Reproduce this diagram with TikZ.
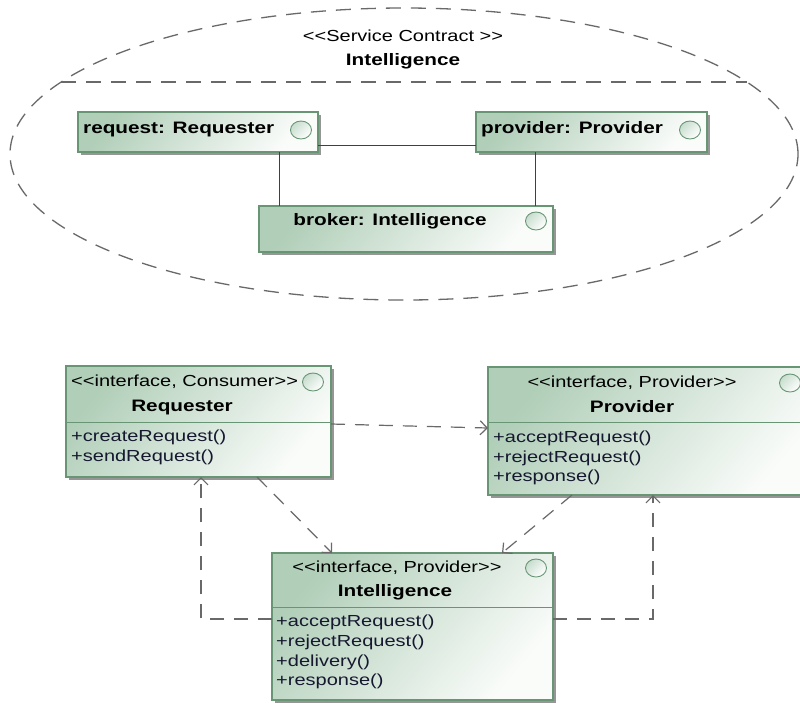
\documentclass[tikz,border=0pt]{standalone}
\usepackage{fontspec}
\setmainfont[FakeStretch=1.25]{Liberation Sans}
\usetikzlibrary{arrows.meta,shapes.geometric,shadows}

\definecolor{umlfill}{RGB}{176,206,184}
\definecolor{umlfilltwo}{RGB}{250,252,250}
\definecolor{umlline}{RGB}{104,150,116}
\definecolor{shadowgray}{RGB}{150,150,150}
\definecolor{dashgray}{RGB}{105,105,105}
\definecolor{opcolor}{RGB}{22,24,48}

% guillemet-like stereotype brackets, kept as two separate characters
\newcommand\stereoL{<\kern0pt<}
\newcommand\stereoR{>\kern0pt>}

\tikzset{
  umlbox/.style={draw=umlline, line width=1.1pt,
    top color=umlfill, bottom color=umlfilltwo, shading angle=50,
    drop shadow={shadow xshift=3pt, shadow yshift=-3pt, fill=shadowgray, opacity=1},
    anchor=north west, inner sep=0pt, outer sep=0pt},
  portmark/.style={ellipse, draw=umlline, line width=0.9pt,
    top color=umlfill!70, bottom color=white, shading angle=45,
    minimum width=21pt, minimum height=18pt, inner sep=0pt},
  partname/.style={font=\fontsize{16.6}{20}\selectfont\bfseries, text=black,
    inner sep=0pt, text height=13pt, text depth=4pt},
  stereo/.style={font=\fontsize{16}{20}\selectfont, text=black,
    inner sep=0pt, text height=12pt, text depth=3.5pt},
  oper/.style={font=\fontsize{16}{20}\selectfont, text=opcolor,
    inner sep=0pt, anchor=west, text height=12pt, text depth=3.5pt},
  compsep/.style={draw=umlline, line width=1pt},
  link/.style={draw=black!75, line width=1pt},
  depend/.style={draw=dashgray, line width=1.2pt, dash pattern=on 14pt off 10pt,
    -{Straight Barb[length=7pt,width=14pt]}},
  contractline/.style={draw=dashgray, line width=1.3pt, dash pattern=on 15pt off 10pt},
}

\begin{document}
\begin{tikzpicture}[x=1pt, y=-1pt]
\useasboundingbox[fill=white] (0,0) rectangle (800,702);

% ---------- service contract collaboration ----------
\node[ellipse, contractline, minimum width=788pt, minimum height=292pt, inner sep=0pt]
  (contract) at (404,154) {};
\coordinate (sepL) at (61,82);
\coordinate (sepR) at (747,82);
\draw[contractline] (sepL) -- (sepR);
\node[stereo] (contractStereo) at (403,37) {\stereoL Service Contract \stereoR};
\node[partname] (contractName) at (403,61) {Intelligence};

% parts
\node[umlbox, minimum width=240pt, minimum height=40pt] (req) at (78,112) {};
\node[partname, anchor=west] (reqT) at (83,129) {request: Requester};
\node[portmark] (reqP) at (301,130) {};

\node[umlbox, minimum width=231pt, minimum height=40pt] (prov) at (476,112) {};
\node[partname, anchor=west] (provT) at (481,129) {provider: Provider};
\node[portmark] (provP) at (690,130) {};

\node[umlbox, minimum width=294pt, minimum height=46pt] (broker) at (259,206) {};
\node[partname] (brokerT) at (390,221) {broker: Intelligence};
\node[portmark] (brokerP) at (536,221) {};

% connectors between parts
\draw[link] ([yshift=-13pt]req.east) -- ([yshift=-13pt]prov.west);
\draw[link] ([xshift=-39pt]req.south east) -- ([xshift=-39pt]req.south east |- broker.north);
\draw[link] ([xshift=59pt]prov.south west) -- ([xshift=59pt]prov.south west |- broker.north);

% ---------- interfaces ----------
% Requester
\node[umlbox, minimum width=265pt, minimum height=111pt] (reqC) at (66,366) {};
\draw[compsep] ([yshift=-56pt]reqC.north west) -- ([yshift=-56pt]reqC.north east);
\node[stereo, anchor=west] (reqCS) at (71,382) {\stereoL interface, Consumer\stereoR};
\node[portmark] (reqCP) at (313,382) {};
\node[partname] (reqCN) at (182,407) {Requester};
\node[oper] (reqOp1) at (71,437) {+createRequest()};
\node[oper] (reqOp2) at (71,457) {+sendRequest()};

% Provider
\node[umlbox, minimum width=330pt, minimum height=128pt] (provC) at (488,367) {};
\draw[compsep] ([yshift=-55pt]provC.north west) -- ([yshift=-55pt]provC.north east);
\node[stereo] (provCS) at (632,383) {\stereoL interface, Provider\stereoR};
\node[portmark] (provCP) at (790,383) {};
\node[partname] (provCN) at (632,408) {Provider};
\node[oper] (provOp1) at (493,438) {+acceptRequest()};
\node[oper] (provOp2) at (493,458) {+rejectRequest()};
\node[oper] (provOp3) at (493,477) {+response()};

% Intelligence
\node[umlbox, minimum width=281pt, minimum height=147pt] (intC) at (272,553) {};
\draw[compsep] ([yshift=-54pt]intC.north west) -- ([yshift=-54pt]intC.north east);
\node[stereo] (intCS) at (397,568) {\stereoL interface, Provider\stereoR};
\node[portmark] (intCP) at (536,568) {};
\node[partname] (intCN) at (395,592) {Intelligence};
\node[oper] (intOp1) at (276,622) {+acceptRequest()};
\node[oper] (intOp2) at (276,642) {+rejectRequest()};
\node[oper] (intOp3) at (276,662) {+delivery()};
\node[oper] (intOp4) at (276,681) {+response()};

% dependencies
\draw[depend] ([yshift=-2.5pt]reqC.east) -- ([yshift=3pt]provC.west);
\draw[depend] ([xshift=58.5pt]reqC.south) -- ([xshift=-80.5pt]intC.north);
\draw[depend] ([xshift=-81pt]provC.south) -- ([xshift=89.5pt]intC.north);
\draw[depend] ([yshift=7.5pt]intC.west) -| ([xshift=2.5pt]reqC.south);
\draw[depend] ([yshift=7.5pt]intC.east) -| (provC.south);

\end{tikzpicture}
\end{document}
